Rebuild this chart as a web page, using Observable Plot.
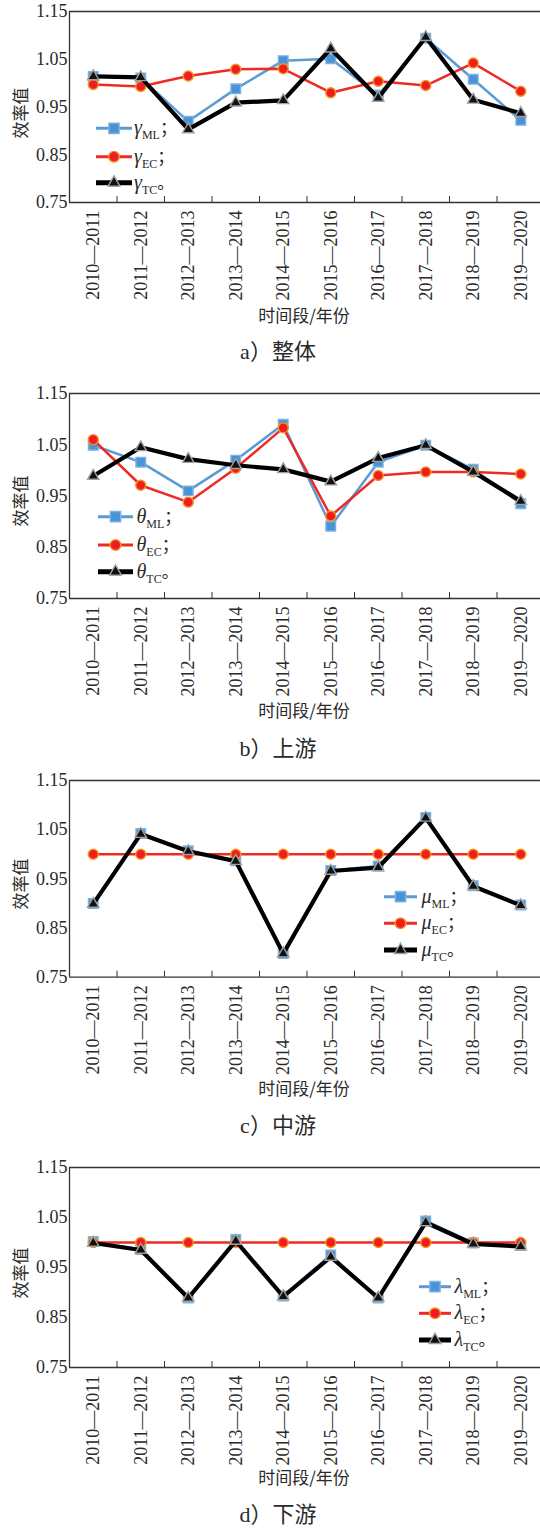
<!DOCTYPE html>
<html><head><meta charset="utf-8">
<script src="https://cdn.jsdelivr.net/npm/d3@7"></script>
<script src="https://cdn.jsdelivr.net/npm/@observablehq/plot@0.6"></script>
<style>
body{margin:0;background:#fff;}
#root{position:relative;width:540px;height:1528px;overflow:hidden;background:#fff;}
.lbl{position:absolute;transform:translate(-50%,-50%);white-space:nowrap;line-height:1;color:#2a2a2a;}
.lat{font-family:"Liberation Serif","DejaVu Serif",serif;}
.cjk{font-family:"Noto Sans CJK SC",sans-serif;}
</style></head><body><div id="root"></div>
<script>
// ---- data ----
const periods = ["2010—2011","2011—2012","2012—2013","2013—2014","2014—2015","2015—2016","2016—2017","2017—2018","2018—2019","2019—2020"];
const yTicks = [0.75, 0.85, 0.95, 1.05, 1.15];
const seriesKeys = ["ML", "EC", "TC"];

const overallML = [1.014, 1.011, 0.920, 0.988, 1.047, 1.051, 0.975, 1.094, 1.008, 0.922];
const overallEC = [0.997, 0.993, 1.015, 1.029, 1.030, 0.980, 1.004, 0.995, 1.042, 0.983];
const overallTC = [1.014, 1.012, 0.903, 0.959, 0.964, 1.072, 0.969, 1.096, 0.965, 0.937];

const upperML = [1.049, 1.016, 0.960, 1.020, 1.090, 0.891, 1.016, 1.049, 1.002, 0.935];
const upperEC = [1.060, 0.971, 0.938, 1.004, 1.083, 0.911, 0.990, 0.997, 0.997, 0.993];
const upperTC = [0.989, 1.045, 1.022, 1.010, 1.002, 0.978, 1.024, 1.049, 0.997, 0.940];

const middleML = [0.900, 1.042, 1.007, 0.987, 0.798, 0.967, 0.976, 1.075, 0.936, 0.897];
const middleEC = [1.000, 1.000, 1.000, 1.000, 1.000, 1.000, 1.000, 1.000, 1.000, 1.000];
const middleTC = [0.899, 1.041, 1.006, 0.986, 0.798, 0.966, 0.973, 1.074, 0.935, 0.896];

const lowerML = [1.002, 0.986, 0.889, 1.006, 0.893, 0.975, 0.889, 1.043, 0.999, 0.994];
const lowerEC = [1.000, 1.000, 1.000, 1.000, 1.000, 1.000, 1.000, 1.000, 1.000, 1.000];
const lowerTC = [0.999, 0.985, 0.889, 1.003, 0.892, 0.971, 0.889, 1.040, 0.997, 0.992];

const greek = ["γ", "θ", "μ", "λ"];
const captionLetters = ["a", "b", "c", "d"];
const captionNames = ["整体", "上游", "中游", "下游"];
const xTitle = "时间段/年份";
const yTitle = "效率值";

// ---- layout ----
const panels = [
  {g: greek[0], ML: overallML, EC: overallEC, TC: overallTC, top: 11, bottom: 202, titleY: 315, capY: 350, leg: {x0: 96, x1: 132, tx: 134, ys: [128.3, 156.7, 182.7]}},
  {g: greek[1], ML: upperML, EC: upperEC, TC: upperTC, top: 392.5, bottom: 597.5, titleY: 710, capY: 746.5, leg: {x0: 98, x1: 133, tx: 136.5, ys: [516.7, 545, 571.7]}},
  {g: greek[2], ML: middleML, EC: middleEC, TC: middleTC, top: 780, bottom: 976.7, titleY: 1088, capY: 1124, leg: {x0: 384, x1: 417, tx: 421.5, ys: [896.7, 923.3, 950]}},
  {g: greek[3], ML: lowerML, EC: lowerEC, TC: lowerTC, top: 1166.7, bottom: 1366.7, titleY: 1476.7, capY: 1513, leg: {x0: 419, x1: 451, tx: 454.5, ys: [1286.7, 1313.3, 1340]}}
];

const style = {
  ML: {line: "#5b9bd5", lw: 2.5, fill: "#4a93d4", stroke: "#7db3e2", symbol: "square", r: 5.4},
  EC: {line: "#ee2a24", lw: 2.5, fill: "#ee1d23", stroke: "#f7941d", symbol: "circle", r: 5},
  TC: {line: "#000000", lw: 4.2, fill: "#111111", stroke: "#a0a0a0", symbol: "triangle", r: 4.2}
};

const root = document.getElementById("root");
const LAT = '"Liberation Serif","DejaVu Serif",serif';
const CJK = '"Noto Sans CJK SC",sans-serif';
const boundaries = d3.range(9).map(i => i + 0.5);

function addLabel(html, x, y, size, extra) {
  const d = document.createElement("div");
  d.className = "lbl";
  d.style.left = x + "px"; d.style.top = y + "px"; d.style.fontSize = size + "px";
  if (extra) d.style.transform = extra;
  d.innerHTML = html;
  root.appendChild(d);
}

panels.forEach((p, idx) => {
  const svgTop = p.top - 11;
  const mb = 108;
  const H = (p.bottom - p.top) + 11 + mb;
  const marks = [
    Plot.ruleY([0.75, 1.15], {stroke: "#333", strokeWidth: 1.3}),
    Plot.ruleX([-0.5], {stroke: "#333", strokeWidth: 1.3}),
    Plot.axisY({ticks: yTicks, tickFormat: d => d.toFixed(2), tickSize: 0, tickPadding: 2, label: null}),
    Plot.axisX({ticks: boundaries, tickSize: -6, tickFormat: () => "", label: null, stroke: "#333"}),
    Plot.axisX({ticks: d3.range(periods.length), tickSize: 0, tickPadding: 8, tickRotate: -90, tickFormat: i => periods[i], label: null})
  ];
  seriesKeys.forEach(k => {
    const s = style[k];
    const data = p[k].map((v, i) => ({i, v}));
    marks.push(Plot.line(data, {x: "i", y: "v", stroke: s.line, strokeWidth: s.lw}));
    marks.push(Plot.dot(data, {x: "i", y: "v", symbol: s.symbol, r: s.r, fill: s.fill, stroke: s.stroke, strokeWidth: 1.4}));
  });
  const chart = Plot.plot({
    width: 540, height: H,
    marginTop: 11, marginBottom: mb, marginLeft: 69, marginRight: 0,
    x: {domain: [-0.5, 9.5], range: [69, 544]},
    y: {domain: [0.75, 1.15]},
    style: {fontFamily: LAT, fontSize: "18px", color: "#2a2a2a", background: "transparent", overflow: "visible"},
    marks
  });
  chart.style.position = "absolute";
  chart.style.left = "0px";
  chart.style.top = svgTop + "px";
  root.appendChild(chart);

  // y title (rotated), x title, caption
  addLabel(`<span class="cjk">${yTitle}</span>`, 20, (p.top + p.bottom) / 2 + 6, 17, "translate(-50%,-50%) rotate(-90deg)");
  addLabel(`<span class="cjk">${xTitle}</span>`, 304, p.titleY, 17);
  addLabel(`<span class="lat">${captionLetters[idx]}</span><span class="cjk">）${captionNames[idx]}</span>`, 278, p.capY, 22);
});

// ---- legends (overlay) ----
const ov = d3.select(root).append("svg")
  .attr("width", 540).attr("height", 1528)
  .style("position", "absolute").style("left", 0).style("top", 0).style("pointer-events", "none");
const sym = {square: d3.symbolSquare, circle: d3.symbolCircle, triangle: d3.symbolTriangle};
panels.forEach(p => {
  seriesKeys.forEach((k, j) => {
    const s = style[k], y = p.leg.ys[j], L = p.leg;
    ov.append("line").attr("x1", L.x0).attr("x2", L.x1).attr("y1", y).attr("y2", y)
      .attr("stroke", s.line).attr("stroke-width", k === "TC" ? 5 : 3);
    ov.append("path").attr("transform", `translate(${(L.x0 + L.x1) / 2},${y})`)
      .attr("d", d3.symbol(sym[s.symbol], Math.PI * s.r * s.r * (k === "TC" ? 1.1 : 1.15))())
      .attr("fill", s.fill).attr("stroke", s.stroke).attr("stroke-width", 1.4);
    const tx = ov.append("text").attr("x", L.tx).attr("y", y + 6)
      .attr("font-family", LAT).attr("fill", "#2a2a2a");
    tx.append("tspan").attr("font-style", "italic").attr("font-size", 20).text(p.g);
    tx.append("tspan").attr("font-size", 12).attr("dy", 5).text(k);
    tx.append("tspan").attr("font-size", 17).attr("dy", -5).attr("font-family", CJK).text(k === "TC" ? "。" : "；");
  });
});
</script></body></html>
